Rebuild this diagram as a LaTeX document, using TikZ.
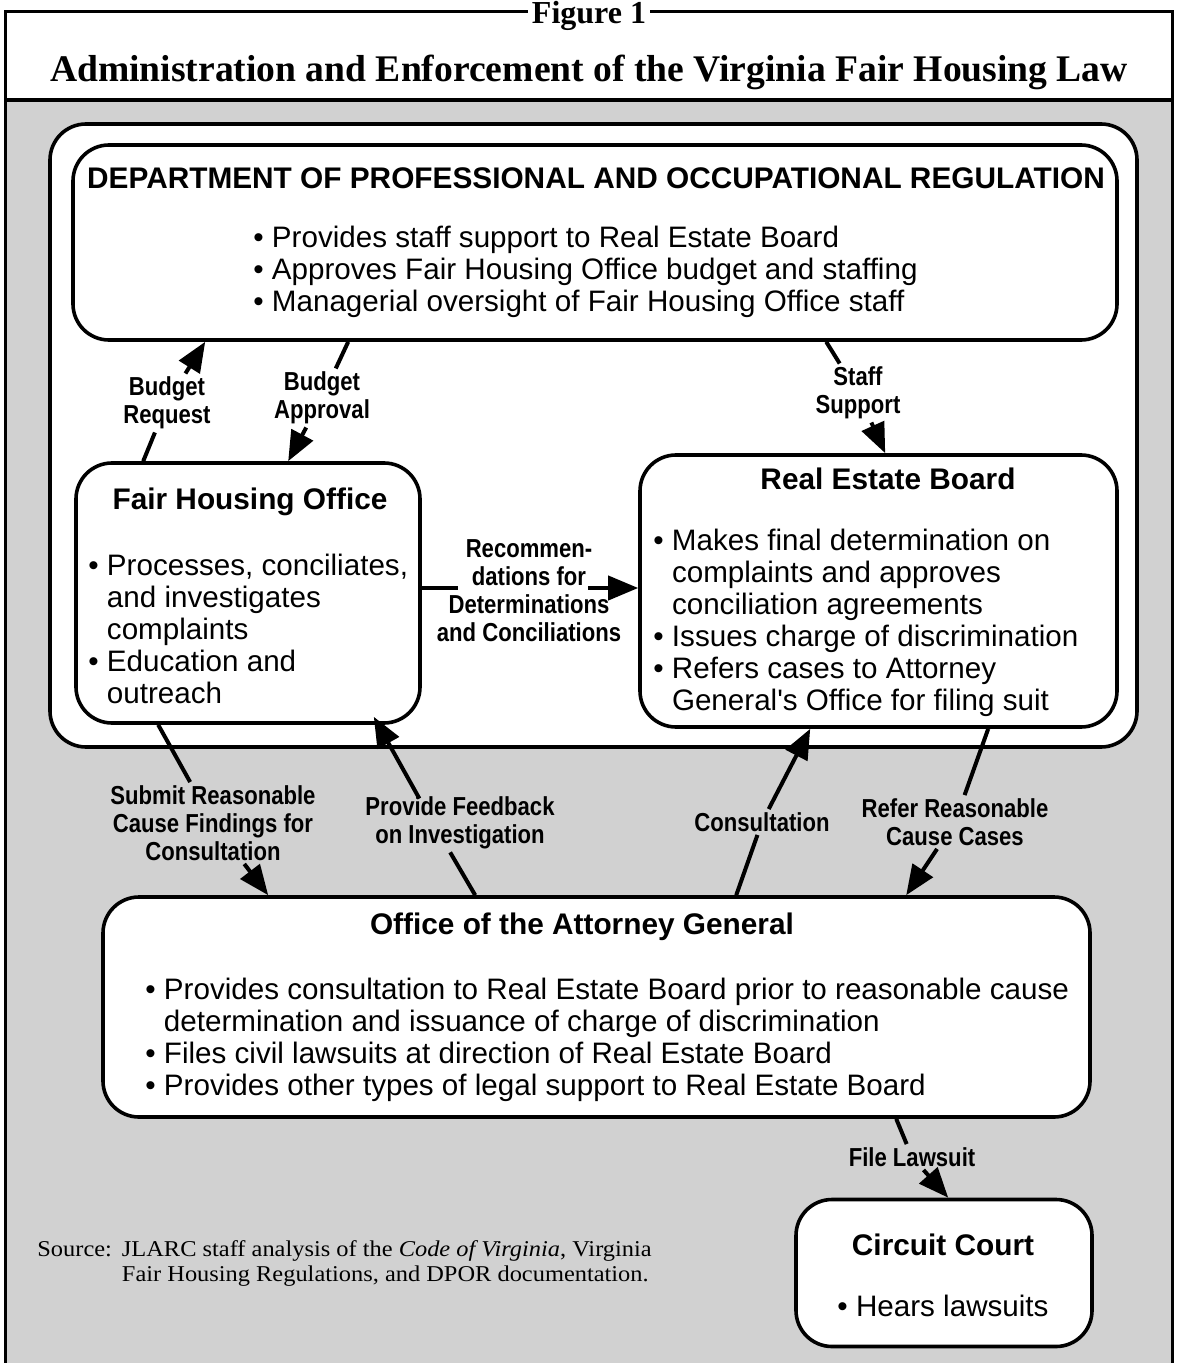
\documentclass[tikz,border=0pt]{standalone}
\usepackage{fontspec}
\setmainfont{Liberation Serif}
\newfontfamily\boxfont{Liberation Sans}
\newfontfamily\lblfont[FakeStretch=0.85]{Liberation Sans}
\newfontfamily\srcfont[FakeStretch=1.08]{Liberation Serif}
\usetikzlibrary{calc,arrows.meta}
\definecolor{bggray}{gray}{0.82}
\newcommand{\bl}{\textbullet\ }
\newcommand{\ind}{\phantom{\textbullet\ }}

\begin{document}
\begin{tikzpicture}[x=0.5pt,y=-0.5pt,
	box/.style={draw, line width=1.8pt, rounded corners=18pt, fill=white, inner sep=0pt},
	ttl/.style={font=\boxfont\bfseries\fontsize{14.9}{16}\selectfont, inner sep=0pt},
	txt/.style={font=\boxfont\fontsize{14.8}{16}\selectfont, align=left, anchor=west, inner sep=0pt},
	lbl/.style={font=\lblfont\bfseries\fontsize{13}{14}\selectfont, align=center, inner sep=1.5pt},
	ln/.style={line width=2pt},
	arr/.style={line width=2pt, -{Triangle[length=15pt,width=12pt]}}]
			%%%%% START %%%%%
			\useasboundingbox (0,0) rectangle (1176,1363);
			
			\fill[bggray] (5,102) rectangle (1172,1363);
			\draw[line width=1.5pt] (5,1363) -- (5,12) -- (1172,12) -- (1172,1363);
			\draw[line width=2pt] (5,100) -- (1172,100);
			\node[fill=white, inner sep=2pt, anchor=base, font=\bfseries\fontsize{16}{18}\selectfont] (fig) at (589,24) {Figure 1};
			\node[anchor=base, inner sep=0pt, font=\bfseries\fontsize{18.8}{22}\selectfont] (title) at (589,82) {Administration and Enforcement of the Virginia Fair Housing Law};
			
			% boxes
			\node[box, minimum width=543.5pt, minimum height=311.5pt] (cont) at (593.5,435.5) {};
			\node[box, minimum width=522pt, minimum height=97.5pt] (dpor) at (595,242.5) {};
			\node[box, minimum width=172pt, minimum height=130pt] (fho) at (248,593) {};
			\node[box, minimum width=238.5pt, minimum height=136pt] (reb) at (878.5,591) {};
			\node[box, minimum width=493.5pt, minimum height=110pt] (ag) at (596.5,1007) {};
			\node[box, minimum width=148pt, minimum height=73.5pt] (cc) at (944,1273) {};
			
			% texts
			\node[ttl] (dport) at (596,178) {DEPARTMENT OF PROFESSIONAL AND OCCUPATIONAL REGULATION};
			\node[txt] (dporb) at (253,272) {\bl Provides staff support to Real Estate Board\\\bl Approves Fair Housing Office budget and staffing\\\bl Managerial oversight of Fair Housing Office staff};
			\node[ttl] (fhot) at (250,502) {Fair Housing Office};
			\node[txt] (fhob) at (88,629) {\bl Processes, conciliates,\\\ind and investigates\\\ind complaints\\\bl Education and\\\ind outreach};
			\node[ttl] (rebt) at (888,479) {Real Estate Board};
			\node[txt] (rebb) at (653,623) {\bl Makes final determination on\\\ind complaints and approves\\\ind conciliation agreements\\\bl Issues charge of discrimination\\\bl Refers cases to Attorney\\\ind General's Office for filing suit};
			\node[ttl] (agt) at (582,927) {Office of the Attorney General};
			\node[txt] (agb) at (145,1039.5) {\bl Provides consultation to Real Estate Board prior to reasonable cause\\\ind determination and issuance of charge of discrimination\\\bl Files civil lawsuits at direction of Real Estate Board\\\bl Provides other types of legal support to Real Estate Board};
			\node[ttl] (cct) at (943,1245) {Circuit Court};
			\node[txt, anchor=center] (ccb) at (943,1306) {\bl Hears lawsuits};
			
			% labels
			\node[lbl] (lbr) at (167,403) {Budget\\Request};
			\node[lbl] (lba) at (322,398) {Budget\\Approval};
			\node[lbl] (lss) at (858,393) {Staff\\Support};
			\node[lbl] (lrec) at (529,591) {Recommen-\\dations for\\Determinations\\and Conciliations};
			\node[lbl] (lsub) at (213,823) {Submit Reasonable\\Cause Findings for\\Consultation};
			\node[lbl] (lfb) at (460,823) {Provide Feedback\\on Investigation};
			\node[lbl] (lcon) at (762,822) {Consultation};
			\node[lbl] (lref) at (955,822) {Refer Reasonable\\Cause Cases};
			\node[lbl] (lfl) at (912,1157) {File Lawsuit};
			\coordinate (recl) at (458,588);
			\coordinate (recr) at (588,588);
			\coordinate (fbmid) at (433,823);
			
			% connectors
			\draw[ln] ($(fho.north west)+(69,0)$) -- (lbr);
			\draw[arr] (lbr) -- ($(dpor.south west)+(134,0)$);
			\draw[ln] ($(dpor.south west)+(277,0)$) -- (lba);
			\draw[arr] (lba) -- ($(fho.north west)+(214,0)$);
			\draw[ln] ($(dpor.south west)+(755,0)$) -- (lss);
			\draw[arr] (lss) -- ($(reb.north west)+(247,0)$);
			\draw[ln] (fho.east |- recl) -- (recl);
			\draw[arr] (recr) -- (reb.west |- recr);
			\draw[ln] ($(fho.south west)+(84,0)$) -- (lsub);
			\draw[arr] (lsub) -- ($(ag.north west)+(167,0)$);
			\draw[ln, shorten >=17pt] ($(ag.north west)+(374,0)$) -- (fbmid);
			\draw[arr, shorten <=14pt] (fbmid) -- ($(fho.south east)+(-48,-8)$);
			\draw[ln] ($(ag.north west)+(635,0)$) -- (lcon);
			\draw[arr] (lcon) -- ($(reb.south west)+(172,0)$);
			\draw[ln] ($(reb.south west)+(350,0)$) -- (lref);
			\draw[arr] (lref) -- ($(ag.north west)+(805,0)$);
			\draw[ln] ($(ag.south west)+(795,0)$) -- (lfl);
			\draw[arr] (lfl) -- ($(cc.north west)+(154,0)$);
			
			\node[anchor=west, inner sep=0pt, font=\srcfont\fontsize{11.3}{12.5}\selectfont] (src) at (37,1264) {\begin{tabular}{@{}l@{\hspace{5pt}}l@{}}Source: & JLARC staff analysis of the \textit{Code of Virginia}, Virginia\\ & Fair Housing Regulations, and DPOR documentation.\end{tabular}};
			%%%%% END %%%%%
\end{tikzpicture}
\end{document}
